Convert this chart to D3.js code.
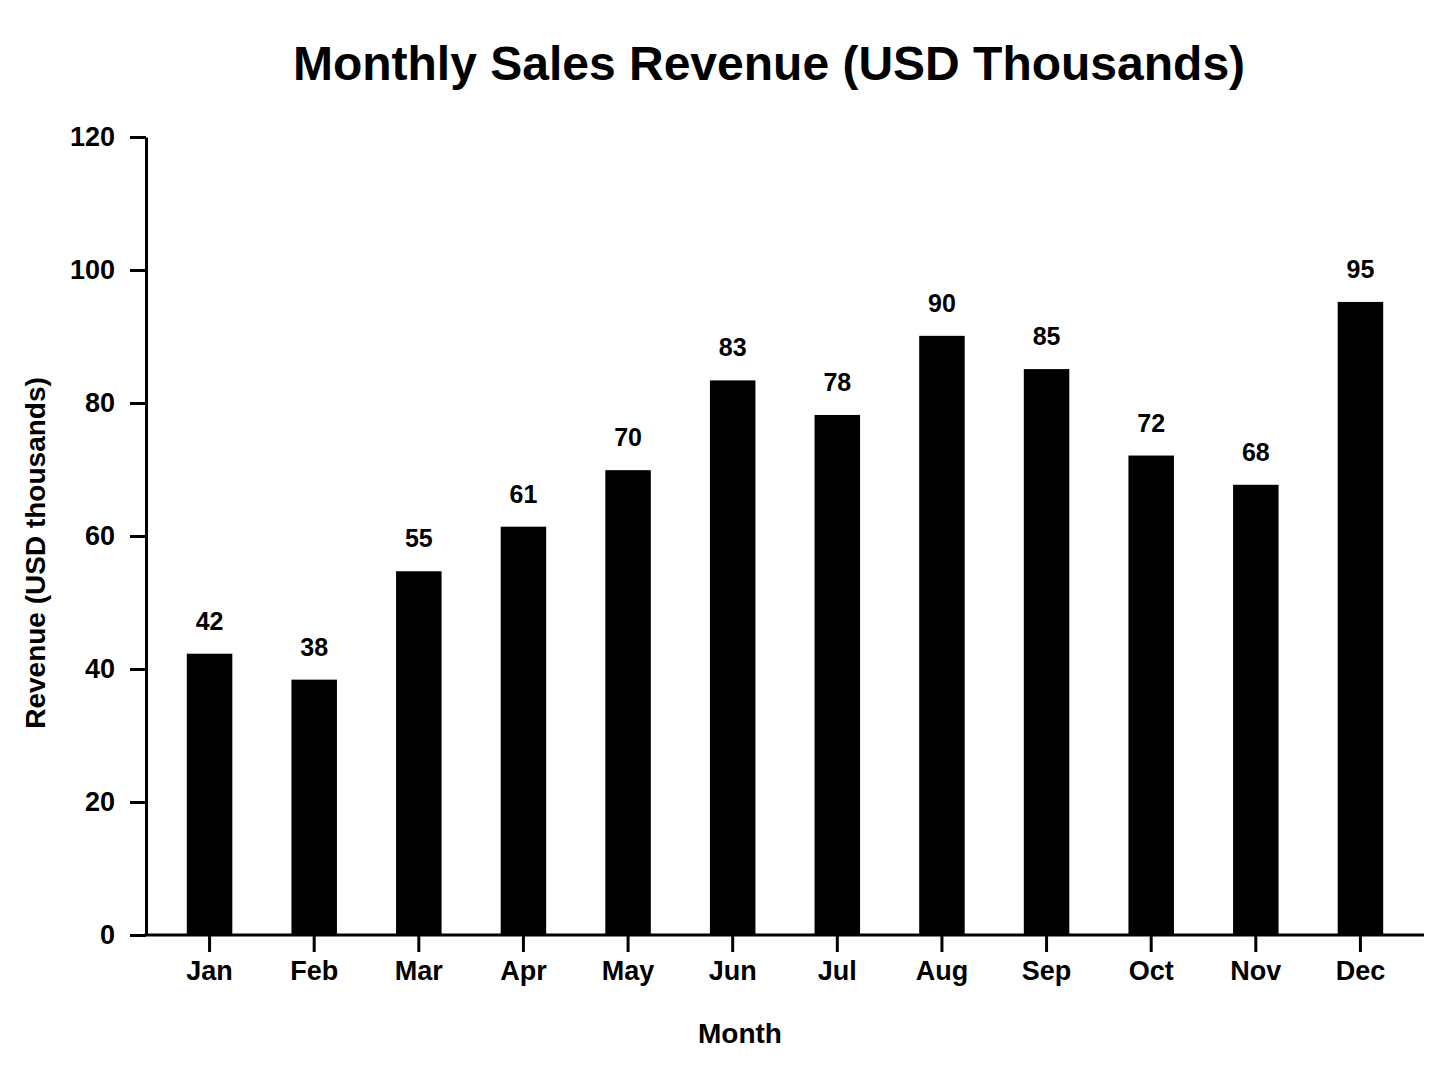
<!DOCTYPE html>
<html>
<head>
<meta charset="utf-8">
<script src="https://cdn.jsdelivr.net/npm/d3@7"></script>
<style>
  body { margin: 0; background: #fff; }
  svg { font-family: "Liberation Sans", Arial, sans-serif; }
</style>
</head>
<body>
<div id="wrapper"></div>
<script>
// data
const months = ["Jan", "Feb", "Mar", "Apr", "May", "Jun", "Jul", "Aug", "Sep", "Oct", "Nov", "Dec"]
const revenue = [42.3, 38.4, 54.7, 61.4, 69.9, 83.4, 78.2, 90.1, 85.1, 72.1, 67.7, 95.2]
const yTicks = [0, 20, 40, 60, 80, 100, 120]

const chartTitle = "Monthly Sales Revenue (USD Thousands)"
const xTitle = "Month"
const yTitle = "Revenue (USD thousands)"

const dimensions = {
  width: 1448,
  height: 1086,
  margin: { top: 137, right: 24, bottom: 151, left: 146 },
}
dimensions.boundedWidth = dimensions.width - dimensions.margin.left - dimensions.margin.right
dimensions.boundedHeight = dimensions.height - dimensions.margin.top - dimensions.margin.bottom

const svg = d3.select("#wrapper")
  .append("svg")
    .attr("width", dimensions.width)
    .attr("height", dimensions.height)

const bounds = svg.append("g")
    .attr("transform", `translate(${dimensions.margin.left},${dimensions.margin.top})`)

// scales
const xScale = d3.scaleBand()
  .domain(months)
  .range([0, dimensions.boundedWidth])
  .paddingInner(0.565)
  .paddingOuter(0.39)

const yScale = d3.scaleLinear()
  .domain([0, 120])
  .range([dimensions.boundedHeight, 0])

// bars
bounds.selectAll("rect.bar")
  .data(months)
  .join("rect")
    .attr("class", "bar")
    .attr("x", d => xScale(d))
    .attr("y", (d, i) => yScale(revenue[i]))
    .attr("width", xScale.bandwidth())
    .attr("height", (d, i) => yScale(0) - yScale(revenue[i]))
    .attr("fill", "#000")

// value labels
const fmt = d3.format(".0f")
bounds.selectAll("text.value")
  .data(months)
  .join("text")
    .attr("class", "value")
    .attr("x", d => xScale(d) + xScale.bandwidth() / 2)
    .attr("y", (d, i) => yScale(revenue[i]) - 24)
    .attr("text-anchor", "middle")
    .style("font-size", "25px")
    .style("font-weight", "bold")
    .text((d, i) => fmt(revenue[i]))

// axes
const xAxis = bounds.append("g")
    .attr("transform", `translate(0,${dimensions.boundedHeight})`)
    .call(d3.axisBottom(xScale).tickSize(17).tickPadding(9).tickSizeOuter(0))

const yAxis = bounds.append("g")
    .call(d3.axisLeft(yScale).tickValues(yTicks).tickSize(16).tickPadding(15).tickSizeOuter(0))

;[xAxis, yAxis].forEach(ax => {
  ax.select(".domain").attr("stroke", "#000").attr("stroke-width", 3)
  ax.selectAll(".tick line").attr("stroke", "#000").attr("stroke-width", 3)
  ax.selectAll(".tick text")
    .attr("fill", "#000")
    .style("font-size", "27px")
    .style("font-weight", "bold")
    .style("font-family", "'Liberation Sans', Arial, sans-serif")
})
// extend the x axis line to meet the y axis
xAxis.select(".domain").attr("d", `M-1.5,0H${dimensions.boundedWidth}`)

// titles
svg.append("text")
    .attr("x", 769)
    .attr("y", 80)
    .attr("text-anchor", "middle")
    .style("font-size", "48px")
    .style("font-weight", "bold")
    .text(chartTitle)

svg.append("text")
    .attr("x", 740)
    .attr("y", 1043)
    .attr("text-anchor", "middle")
    .style("font-size", "28px")
    .style("font-weight", "bold")
    .text(xTitle)

svg.append("text")
    .attr("transform", `translate(45,${553}) rotate(-90)`)
    .attr("text-anchor", "middle")
    .style("font-size", "28px")
    .style("font-weight", "bold")
    .text(yTitle)
</script>
</body>
</html>
